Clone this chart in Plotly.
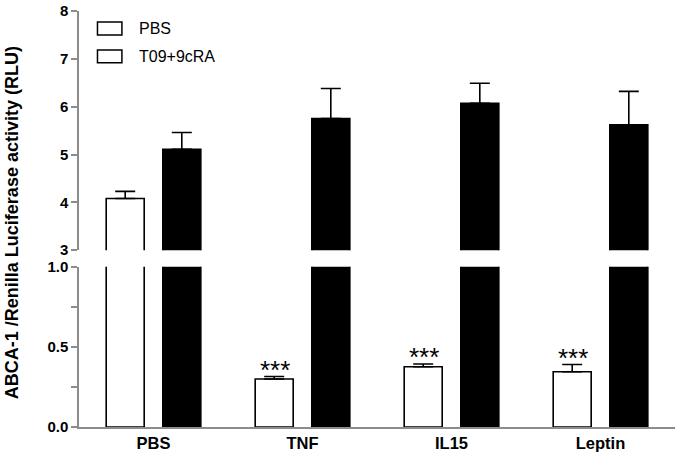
import plotly.graph_objects as go

categories = ["PBS", "TNF", "IL15", "Leptin"]
pbs_values = [4.08, 0.30, 0.376, 0.345]
pbs_errors = [0.15, 0.015, 0.017, 0.045]
t09_values = [5.11, 5.75, 6.07, 5.62]
t09_errors = [0.35, 0.63, 0.42, 0.70]
significance = ["", "***", "***", "***"]
legend_labels = ["PBS", "T09+9cRA"]

FONT = "Liberation Sans, Arial, sans-serif"
AXIS_GRAY = "#8c8c8c"

fig = go.Figure()

bar_w = 0.255
off_white = -0.3175
off_black = 0.0625

for yax in ["y", "y2"]:
    fig.add_trace(go.Bar(
        x=categories, y=pbs_values, yaxis=yax, xaxis="x",
        width=bar_w, offset=off_white,
        marker=dict(color="white", line=dict(color="black", width=1.6)),
        error_y=dict(type="data", symmetric=False, array=pbs_errors,
                     arrayminus=[0] * 4, color="black", thickness=1.6, width=10),
        showlegend=False, name="PBS",
    ))
    fig.add_trace(go.Bar(
        x=categories, y=t09_values, yaxis=yax, xaxis="x",
        width=bar_w, offset=off_black,
        marker=dict(color="black", line=dict(color="black", width=1.6)),
        error_y=dict(type="data", symmetric=False, array=t09_errors,
                     arrayminus=[0] * 4, color="black", thickness=1.6, width=10),
        showlegend=False, name="T09+9cRA",
    ))

annotations = []
for c, v, e, s in zip(categories, pbs_values, pbs_errors, significance):
    if s:
        annotations.append(dict(
            x=c, y=v + e, xref="x", yref="y", text=s, showarrow=False,
            yanchor="bottom", xshift=-28, yshift=-10,
            font=dict(family=FONT, size=26, color="black"),
        ))

annotations.append(dict(
    x=0, y=0.49, xref="paper", yref="paper", xshift=-67,
    text="<b>ABCA-1 /Renilla Luciferase activity (RLU)</b>",
    textangle=-90, showarrow=False, xanchor="center", yanchor="middle",
    font=dict(family=FONT, size=18, color="black"),
))

# custom legend (open boxes as in the reference)
shapes = []
leg_y = [0.958, 0.891]
for lab, yc in zip(legend_labels, leg_y):
    shapes.append(dict(type="rect", xref="paper", yref="paper",
                       x0=0.031, x1=0.072, y0=yc - 0.0155, y1=yc + 0.0155,
                       line=dict(color="black", width=1.5), fillcolor="white"))
    annotations.append(dict(x=0.097, y=yc, xref="paper", yref="paper",
                            text=lab, showarrow=False, xanchor="left",
                            yanchor="middle",
                            font=dict(family=FONT, size=16, color="black")))

fig.update_layout(
    width=677, height=454,
    margin=dict(l=79, r=2, t=6, b=27),
    paper_bgcolor="white", plot_bgcolor="white",
    barmode="overlay",
    font=dict(family=FONT, color="black"),
    xaxis=dict(
        domain=[0, 1], anchor="y", type="category",
        range=[-0.5, 3.5],
        showline=True, linecolor=AXIS_GRAY, linewidth=1.5,
        ticks="", showgrid=False, zeroline=False,
        tickfont=dict(family=FONT, size=16.5, color="black"),
        tickprefix="<b>", ticksuffix="</b>",
    ),
    yaxis=dict(
        domain=[0, 0.385], anchor="x", range=[0, 1],
        tickvals=[0, 0.25, 0.5, 0.75, 1.0],
        ticktext=["<b>0.0</b>", "", "<b>0.5</b>", "", "<b>1.0</b>"],
        showline=True, linecolor=AXIS_GRAY, linewidth=1.5,
        ticks="outside", ticklen=6, tickcolor=AXIS_GRAY, tickwidth=1.5,
        showgrid=False, zeroline=False,
        tickfont=dict(family=FONT, size=15, color="black"),
    ),
    yaxis2=dict(
        domain=[0.425, 1], anchor="x", range=[3, 8],
        tickvals=[3, 4, 5, 6, 7, 8],
        ticktext=["<b>3</b>", "<b>4</b>", "<b>5</b>", "<b>6</b>", "<b>7</b>", "<b>8</b>"],
        showline=True, linecolor=AXIS_GRAY, linewidth=1.5,
        ticks="outside", ticklen=6, tickcolor=AXIS_GRAY, tickwidth=1.5,
        showgrid=False, zeroline=False,
        tickfont=dict(family=FONT, size=15, color="black"),
    ),
    annotations=annotations,
    shapes=shapes,
)

fig.write_html("out.html", config={"displayModeBar": False},
               post_script="document.body.style.margin='0';")
